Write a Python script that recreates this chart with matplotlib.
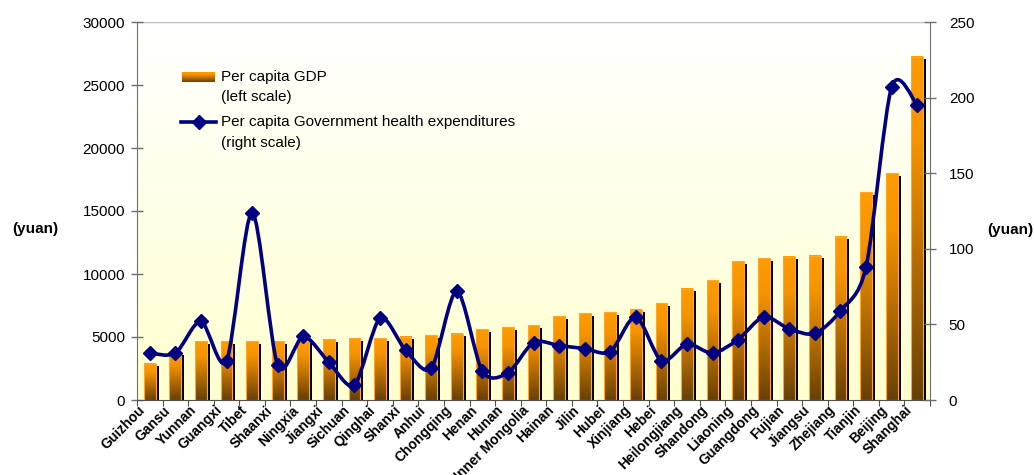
import numpy as np
import matplotlib
matplotlib.use("Agg")
import matplotlib.pyplot as plt
from matplotlib.colors import LinearSegmentedColormap
from matplotlib.path import Path
from matplotlib.patches import PathPatch
from matplotlib.lines import Line2D
import matplotlib.transforms as mtransforms

plt.rcParams['font.family'] = ['Liberation Sans', 'DejaVu Sans']

provinces = ['Guizhou', 'Gansu', 'Yunnan', 'Guangxi', 'Tibet', 'Shaanxi', 'Ningxia',
             'Jiangxi', 'Sichuan', 'Qinghai', 'Shanxi', 'Anhui', 'Chongqing', 'Henan',
             'Hunan', 'Inner Mongolia', 'Hainan', 'Jilin', 'Hubei', 'Xinjiang', 'Hebei',
             'Heilongjiang', 'Shandong', 'Liaoning', 'Guangdong', 'Fujian', 'Jiangsu',
             'Zhejiang', 'Tianjin', 'Beijing', 'Shanghai']

# per capita GDP, yuan (left scale)
gdp = [2860, 3800, 4680, 4660, 4650, 4660, 4700, 4840, 4900, 4920, 5020, 5130, 5240,
       5630, 5790, 5920, 6660, 6900, 6980, 7170, 7670, 8810, 9500, 11030, 11240,
       11350, 11450, 12960, 16480, 18010, 27250]

# per capita government health expenditure, yuan (right scale)
health = [31, 31, 52, 26, 124, 23, 42, 25, 10, 54, 33, 21, 72, 19, 18, 38, 36, 34,
          32, 55, 26, 37, 31, 40, 55, 47, 44, 59, 88, 207, 195]

n = len(provinces)
x = np.arange(n)

fig = plt.figure(figsize=(10.34, 4.75), dpi=100)
ax = fig.add_axes([137 / 1034, 75 / 475, 793 / 1034, 378 / 475])
ax2 = ax.twinx()

# background: white at the top fading to pale yellow
bg = LinearSegmentedColormap.from_list('bg', ['#ffffcf', '#ffffff'])
ax.imshow(np.linspace(0, 1, 256).reshape(-1, 1), cmap=bg, origin='lower',
          extent=(-0.5, n - 0.5, 0, 30000), aspect='auto', zorder=0)

# bars: black drop shadow, then orange-to-brown gradient fill
barcmap = LinearSegmentedColormap.from_list(
    'bar', [(0, '#684004'), (0.45, '#c07200'), (0.75, '#f59300'), (1, '#ff9c00')])
w = 0.46
shadow = mtransforms.offset_copy(ax.transData, fig=fig, x=3, y=-2.5, units='dots')
grad = np.linspace(0, 1, 128).reshape(-1, 1)
for xi, v in zip(x, gdp):
    ax.add_patch(plt.Rectangle((xi - w / 2, 0), w, v, facecolor='black',
                               edgecolor='none', transform=shadow, zorder=2))
    ax.imshow(grad, cmap=barcmap, origin='lower', aspect='auto',
              extent=(xi - w / 2, xi + w / 2, 0, v), zorder=3)
    ax.add_patch(plt.Rectangle((xi - w / 2, 0), w, v, facecolor='none',
                               edgecolor='#ffa726', lw=0.8, zorder=3.5))
ax.set_xlim(-0.5, n - 0.5)
ax.set_ylim(0, 30000)
ax2.set_ylim(0, 250)

# smoothed line through the health values (cubic bezier, catmull-rom style)
pts = np.column_stack([x, health]).astype(float)
verts = [pts[0]]
codes = [Path.MOVETO]
for i in range(n - 1):
    p0 = pts[max(i - 1, 0)]
    p1 = pts[i]
    p2 = pts[i + 1]
    p3 = pts[min(i + 2, n - 1)]
    verts += [p1 + (p2 - p0) / 7, p2 - (p3 - p1) / 7, p2]
    codes += [Path.CURVE4] * 3
ax2.add_patch(PathPatch(Path(verts, codes), facecolor='none', edgecolor='#000080',
                        lw=2.6, zorder=4, capstyle='round', joinstyle='round'))
ax2.plot(x, health, ls='none', marker='D', ms=7, color='#000080', zorder=5)

# axes styling
for a in (ax, ax2):
    for s in a.spines.values():
        s.set_visible(False)
ax.spines['left'].set_visible(True)
ax.spines['left'].set_color('#6e6e6e')
ax.spines['bottom'].set_visible(True)
ax.spines['bottom'].set_color('#505050')
ax2.spines['right'].set_visible(True)
ax2.spines['right'].set_color('#6e6e6e')
ax.axhline(30000, color='#bdbdbd', lw=1, zorder=1)

ax.set_yticks(np.arange(0, 30001, 5000))
ax.tick_params(axis='y', direction='inout', length=9, width=1, colors='#6e6e6e',
               labelcolor='black', labelsize=11, pad=4)
ax2.set_yticks(np.arange(0, 251, 50))
ax2.tick_params(axis='y', direction='inout', length=9, width=1, colors='#6e6e6e',
                labelcolor='black', labelsize=11, pad=9)

ax.set_xticks(np.arange(n + 1) - 0.5)
ax.set_xticklabels([])
ax.tick_params(axis='x', which='major', direction='out', length=4, color='#505050')
ax.set_xticks(x, minor=True)
ax.set_xticklabels(provinces, minor=True, rotation=45, ha='right', va='top',
                   rotation_mode='anchor', fontsize=10, fontweight='bold')
ax.tick_params(axis='x', which='minor', length=0, pad=3)
shift = mtransforms.ScaledTranslation(-12 / 100, 1 / 100, fig.dpi_scale_trans)
for lab in ax.get_xticklabels(minor=True):
    lab.set_transform(lab.get_transform() + shift)

fig.text(12 / 1034, 1 - 229 / 475, '(yuan)', fontsize=11, fontweight='bold',
         ha='left', va='center')
fig.text(1033 / 1034, 1 - 230 / 475, '(yuan)', fontsize=11, fontweight='bold',
         ha='right', va='center')

# legend
ax2.imshow(grad, cmap=barcmap, origin='lower', aspect='auto',
           extent=(0.057, 0.098, 0.842, 0.867), transform=ax2.transAxes, zorder=6)
ax2.set_ylim(0, 250)
ax2.add_line(Line2D([0.056, 0.1], [0.735, 0.735], transform=ax2.transAxes,
                    color='#000080', lw=2.6, zorder=6))
ax2.add_line(Line2D([0.078], [0.735], transform=ax2.transAxes, color='#000080',
                    marker='D', ms=7, ls='none', zorder=6))
for ty, txt in [(0.854, 'Per capita GDP'), (0.802, '(left scale)'),
                (0.735, 'Per capita Government health expenditures'),
                (0.680, '(right scale)')]:
    ax2.text(0.106, ty, txt, transform=ax2.transAxes, fontsize=11, va='center',
             ha='left', zorder=6)

fig.savefig('out.png', dpi=100)
